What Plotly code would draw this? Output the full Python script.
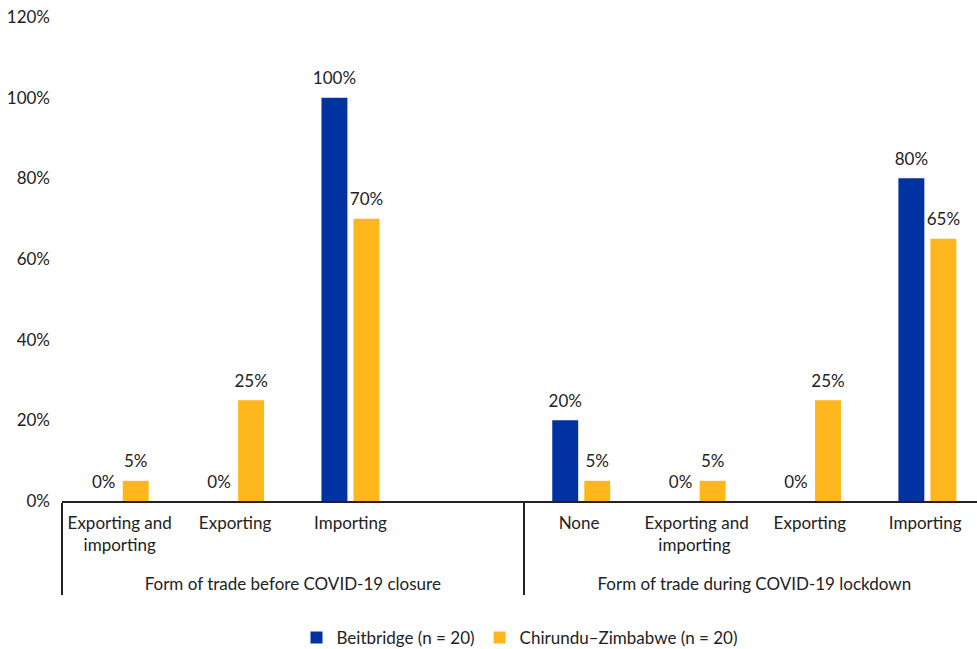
import plotly.graph_objects as go

# Survey groups and trade forms (fourth slot of the first group is left blank for spacing).
# Second-group names carry a trailing space so each group keeps its own category order.
groups = ["<br>Form of trade before COVID-19 closure"] * 4 + ["<br>Form of trade during COVID-19 lockdown"] * 4
forms = ["Exporting and<br>importing", "Exporting", "Importing", " ",
         "None ", "Exporting and<br>importing ", "Exporting ", "Importing "]

beitbridge = [0.00, 0.00, 1.00, None, 0.20, 0.00, 0.00, 0.80]
chirundu = [0.05, 0.25, 0.70, None, 0.05, 0.05, 0.25, 0.65]

series_names = ["Beitbridge (n = 20)", "Chirundu–Zimbabwe (n = 20)"]
colors = ["#0033A1", "#FDB71C"]

font_family = "Lato, 'Open Sans', sans-serif"
fsize = 17
gap = 0.445

fig = go.Figure()
for name, vals, col in zip(series_names, [beitbridge, chirundu], colors):
    fig.add_trace(go.Bar(
        x=[groups, forms],
        y=vals,
        name=name,
        marker=dict(color=col, line=dict(width=0)),
        hoverinfo="skip",
    ))

# Value labels above each bar, grouped the same way as the bars
for name, vals in zip(series_names, [beitbridge, chirundu]):
    fig.add_trace(go.Scatter(
        x=[groups, forms],
        y=vals,
        mode="markers+text",
        marker=dict(size=13, opacity=0),
        texttemplate="%{y:.0%}",
        textposition="top center",
        textfont=dict(size=fsize, color="#222222", family=font_family),
        showlegend=False,
        cliponaxis=False,
        hoverinfo="skip",
    ))

fig.update_layout(
    width=977, height=649,
    margin=dict(l=62, r=0, t=17, b=148),
    paper_bgcolor="white", plot_bgcolor="white",
    barmode="group", bargap=gap, bargroupgap=0.19,
    scattermode="group", scattergap=gap,
    font=dict(family=font_family, size=fsize, color="#222222"),
    showlegend=True,
    legend=dict(orientation="h", x=0.5, xanchor="center",
                yref="container", y=0.017, yanchor="middle",
                font=dict(size=fsize), itemwidth=30, traceorder="normal"),
    xaxis=dict(
        type="multicategory",
        range=[-0.5, 7.43],
        showline=True, linecolor="#222222", linewidth=1.5,
        showgrid=False, ticks="",
        showdividers=True, dividercolor="#222222", dividerwidth=1.5,
        tickfont=dict(size=fsize), ticklabelstandoff=6,
    ),
    yaxis=dict(
        range=[0, 1.2], dtick=0.2, tickformat=".0%",
        showgrid=False, zeroline=False, showline=False, ticks="",
        tickfont=dict(size=fsize), ticklabelstandoff=11,
    ),
)

fig.write_html("out.html")
